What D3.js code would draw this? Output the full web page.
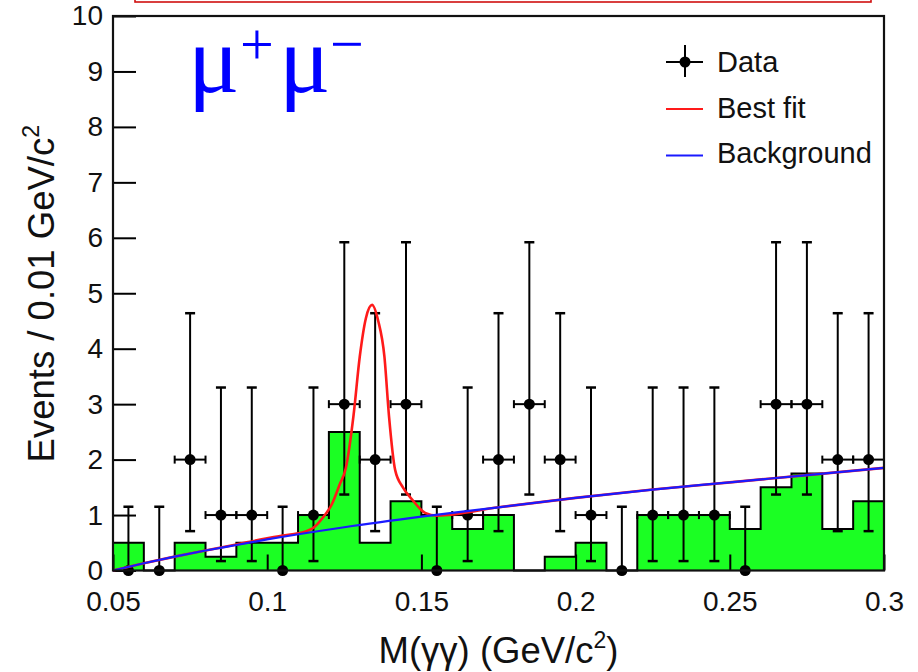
<!DOCTYPE html>
<html>
<head>
<meta charset="utf-8">
<script src="https://cdn.jsdelivr.net/npm/d3@7"></script>
<style>
  body { margin: 0; background: #fff; }
  svg { display: block; font-family: "Liberation Sans", Arial, sans-serif; }
</style>
</head>
<body>
<svg class="chart" width="918" height="672"></svg>
<script>
// data points (bin centres, counts, poisson error limits)
var massBins = [0.055, 0.065, 0.075, 0.085, 0.095, 0.105, 0.115, 0.125, 0.135, 0.145,
                0.155, 0.165, 0.175, 0.185, 0.195, 0.205, 0.215, 0.225, 0.235, 0.245,
                0.255, 0.265, 0.275, 0.285, 0.295];
var dataCounts = [0, 0, 2, 1, 1, 0, 1, 3, 2, 3,
                  0, 1, 2, 3, 2, 1, 0, 1, 1, 1,
                  0, 3, 3, 2, 2];
var errLo = [0, 0, 0.71, 0.17, 0.17, 0, 0.17, 1.37, 0.71, 1.37,
             0, 0.17, 0.71, 1.37, 0.71, 0.17, 0, 0.17, 0.17, 0.17,
             0, 1.37, 1.37, 0.71, 0.71];
var errHi = [1.15, 1.15, 4.64, 3.3, 3.3, 1.15, 3.3, 5.92, 4.64, 5.92,
             1.15, 3.3, 4.64, 5.92, 4.64, 3.3, 1.15, 3.3, 3.3, 3.3,
             1.15, 5.92, 5.92, 4.64, 4.64];

// green histogram, one value per 0.01 bin
var mcCounts = [0.5, 0, 0.5, 0.25, 0.5, 0.5, 1, 2.5, 0.5, 1.25,
                1, 0.75, 1, 0, 0.25, 0.5, 0, 1, 1, 1,
                0.75, 1.5, 1.75, 0.75, 1.25];
var binWidth = 0.01;

// background curve
var bkgX = [0.05, 0.06, 0.07, 0.08, 0.09, 0.10, 0.125, 0.15, 0.175, 0.20, 0.225, 0.25, 0.275, 0.30];
var bkgY = [0.0, 0.13, 0.25, 0.36, 0.46, 0.56, 0.78, 0.97, 1.14, 1.31, 1.46, 1.59, 1.72, 1.85];

// best fit curve
var fitX = [0.05, 0.06, 0.07, 0.08, 0.09, 0.10, 0.105, 0.11, 0.115, 0.118, 0.121, 0.1235, 0.1255,
            0.128, 0.130, 0.132, 0.134, 0.136, 0.138, 0.1395, 0.1415, 0.144, 0.147, 0.1512, 0.155,
            0.175, 0.20, 0.225, 0.25, 0.275, 0.30];
var fitY = [0.0, 0.13, 0.25, 0.36, 0.47, 0.58, 0.63, 0.67, 0.77, 0.95, 1.2, 1.55, 1.85,
            2.8, 3.85, 4.55, 4.79, 4.5, 3.86, 2.78, 1.81, 1.5, 1.28, 1.04, 0.99,
            1.14, 1.31, 1.46, 1.59, 1.72, 1.85];

var xTicks = [0.05, 0.1, 0.15, 0.2, 0.25, 0.3];
var yTicks = [0, 1, 2, 3, 4, 5, 6, 7, 8, 9, 10];

var legendItems = ["Data", "Best fit", "Background"];

var plot = {left: 113, right: 884, top: 16, bottom: 570.5};

var x = d3.scaleLinear().domain([0.05, 0.3]).range([plot.left, plot.right]);
var y = d3.scaleLinear().domain([0, 10]).range([plot.bottom, plot.top]);

var svg = d3.select('.chart');

// red box remnant at the top
svg.append("rect")
    .attr("x", 135).attr("y", -10)
    .attr("width", 736).attr("height", 12)
    .attr("fill", "none")
    .attr("stroke", "#d01010")
    .attr("stroke-width", 1.6);

// histogram
var histPts = [[x(0.05), y(0)]];
massBins.forEach(function(c, i) {
  histPts.push([x(c - binWidth / 2), y(mcCounts[i])]);
  histPts.push([x(c + binWidth / 2), y(mcCounts[i])]);
});
histPts.push([x(0.3), y(0)]);

svg.append("path")
    .attr("d", d3.line()(histPts) + "Z")
    .attr("fill", "#1bff23")
    .attr("stroke", "none");
svg.append("path")
    .attr("d", d3.line()(histPts))
    .attr("fill", "none")
    .attr("stroke", "#000")
    .attr("stroke-width", 2);

// axes, ticks pointing inward
var gy = svg.append("g").attr("transform", "translate(" + plot.left + ",0)");
gy.call(d3.axisLeft(y).tickValues(d3.range(0, 10.01, 0.2)).tickSize(-12).tickFormat(""));
gy.call(d3.axisLeft(y).tickValues(yTicks).tickSize(-23).tickPadding(10).tickFormat(d3.format("d")));

var gx = svg.append("g").attr("transform", "translate(0," + plot.bottom + ")");
gx.call(d3.axisBottom(x).tickValues(d3.range(0.05, 0.3001, 0.01)).tickSize(-8).tickFormat(""));
gx.call(d3.axisBottom(x).tickValues(xTicks).tickSize(-16).tickPadding(21).tickFormat(d3.format("")));

svg.selectAll(".domain").remove();
svg.selectAll(".tick line").attr("stroke", "#000").attr("stroke-width", 2);
svg.selectAll(".tick text").attr("font-size", 28).attr("fill", "#111")
    .attr("font-family", "Liberation Sans, Arial, sans-serif");

// data points with error bars
var pts = svg.append("g");
massBins.forEach(function(c, i) {
  var cx = x(c), cy = y(dataCounts[i]);
  pts.append("line")
      .attr("x1", cx).attr("x2", cx)
      .attr("y1", y(errLo[i])).attr("y2", y(errHi[i]))
      .attr("stroke", "#000").attr("stroke-width", 2);
  pts.append("line")
      .attr("x1", cx - 5).attr("x2", cx + 5)
      .attr("y1", y(errHi[i])).attr("y2", y(errHi[i]))
      .attr("stroke", "#000").attr("stroke-width", 2.5);
  if (dataCounts[i] > 0) {
    pts.append("line")
        .attr("x1", cx - 5).attr("x2", cx + 5)
        .attr("y1", y(errLo[i])).attr("y2", y(errLo[i]))
        .attr("stroke", "#000").attr("stroke-width", 2.5);
    var xl = x(c - binWidth / 2), xr = x(c + binWidth / 2);
    pts.append("line")
        .attr("x1", xl).attr("x2", xr)
        .attr("y1", cy).attr("y2", cy)
        .attr("stroke", "#000").attr("stroke-width", 2);
    [xl, xr].forEach(function(xe) {
      pts.append("line")
          .attr("x1", xe).attr("x2", xe)
          .attr("y1", cy - 4).attr("y2", cy + 4)
          .attr("stroke", "#000").attr("stroke-width", 2);
    });
  }
  pts.append("circle")
      .attr("cx", cx).attr("cy", cy).attr("r", 5.5)
      .attr("fill", "#000");
});

// fit curves
var curve = d3.line()
    .x(function(d) { return x(d[0]); })
    .y(function(d) { return y(d[1]); })
    .curve(d3.curveMonotoneX);

svg.append("path")
    .attr("d", curve(fitX.map(function(v, i) { return [v, fitY[i]]; })))
    .attr("fill", "none")
    .attr("stroke", "#ff1a1a")
    .attr("stroke-width", 2.6);

svg.append("path")
    .attr("d", curve(bkgX.map(function(v, i) { return [v, bkgY[i]]; })))
    .attr("fill", "none")
    .attr("stroke", "#1a1aff")
    .attr("stroke-width", 2.2);

// frame
svg.append("rect")
    .attr("x", plot.left).attr("y", plot.top)
    .attr("width", plot.right - plot.left)
    .attr("height", plot.bottom - plot.top)
    .attr("fill", "none")
    .attr("stroke", "#111")
    .attr("stroke-width", 2.2);

// legend
var lg = svg.append("g");
lg.append("line").attr("x1", 666).attr("x2", 703).attr("y1", 62).attr("y2", 62)
    .attr("stroke", "#000").attr("stroke-width", 2);
lg.append("line").attr("x1", 685).attr("x2", 685).attr("y1", 45).attr("y2", 77)
    .attr("stroke", "#000").attr("stroke-width", 2);
lg.append("circle").attr("cx", 685).attr("cy", 62).attr("r", 5.5).attr("fill", "#000");
lg.append("line").attr("x1", 666).attr("x2", 703).attr("y1", 109).attr("y2", 109)
    .attr("stroke", "#ff1a1a").attr("stroke-width", 2);
lg.append("line").attr("x1", 666).attr("x2", 703).attr("y1", 155.5).attr("y2", 155.5)
    .attr("stroke", "#1a1aff").attr("stroke-width", 2);
lg.selectAll("text")
    .data(legendItems)
  .enter().append("text")
    .attr("x", 717)
    .attr("y", function(d, i) { return [72, 118, 163][i]; })
    .attr("font-size", 29)
    .attr("fill", "#111")
    .text(function(d) { return d; });

// channel label
var lab = svg.append("g").attr("fill", "#0000ff").attr("font-family", "Liberation Serif, Times New Roman, serif");
lab.append("text").attr("x", 188).attr("y", 92).attr("font-size", 96).text("μ");
lab.append("text").attr("x", 240).attr("y", 64).attr("font-size", 60).text("+");
lab.append("text").attr("x", 279).attr("y", 92).attr("font-size", 96).text("μ");
lab.append("text").attr("x", 330).attr("y", 64).attr("font-size", 60).text("−");

// axis titles
var xt = svg.append("text")
    .attr("x", (plot.left + plot.right) / 2)
    .attr("y", 663)
    .attr("text-anchor", "middle")
    .attr("font-size", 36.5)
    .attr("fill", "#111");
xt.append("tspan").text("M(γγ) (GeV/c");
xt.append("tspan").attr("font-size", 23).attr("dy", -15).text("2");
xt.append("tspan").attr("dy", 15).text(")");

var yt = svg.append("text")
    .attr("transform", "translate(54,125) rotate(-90)")
    .attr("text-anchor", "end")
    .attr("font-size", 36.5)
    .attr("fill", "#111");
yt.append("tspan").text("Events / 0.01 GeV/c");
yt.append("tspan").attr("font-size", 23).attr("dy", -15).text("2");
</script>
</body>
</html>
